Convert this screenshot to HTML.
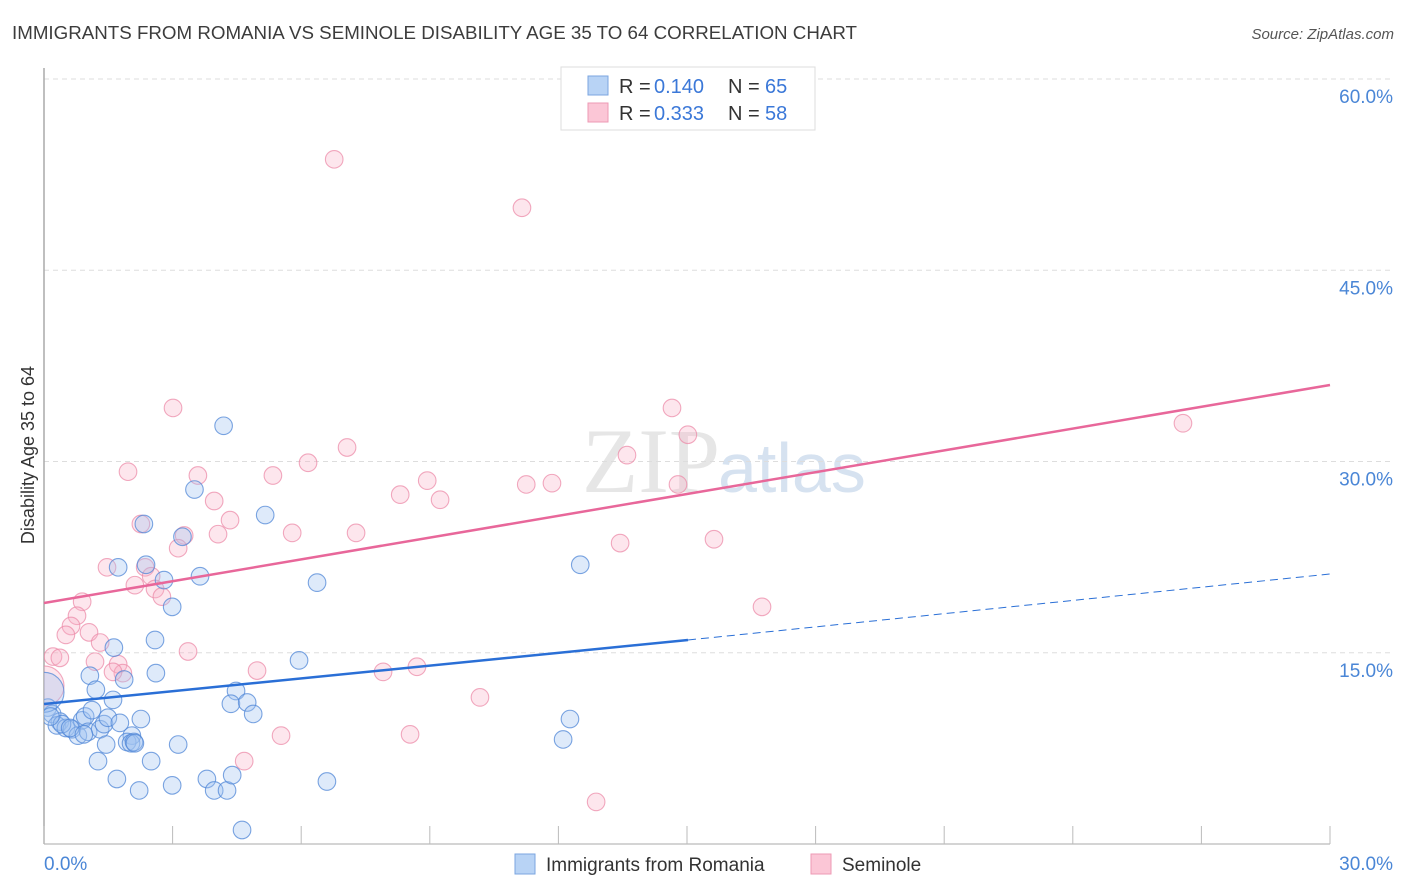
<!DOCTYPE html>
<html><head><meta charset="utf-8"><style>
body{margin:0;background:#fff;font-family:"Liberation Sans",sans-serif;}
svg{display:block}
</style></head><body>
<svg id="c" width="1406" height="892">
<text x="12" y="39" font-size="18" fill="#3c3c3c" textLength="845" lengthAdjust="spacingAndGlyphs">IMMIGRANTS FROM ROMANIA VS SEMINOLE DISABILITY AGE 35 TO 64 CORRELATION CHART</text>
<text x="1394" y="39" font-size="15" fill="#555" font-style="italic" text-anchor="end">Source: ZipAtlas.com</text>
<text x="720" y="492" font-size="92" fill="#e6e6e6" font-family="Liberation Serif,serif" text-anchor="end">ZIP</text>
<text x="718" y="492" font-size="70" fill="#d6e2f0" text-anchor="start">atlas</text>
<text transform="translate(34,455) rotate(-90)" font-size="18" fill="#333" text-anchor="middle">Disability Age 35 to 64</text>
<g id="grid"></g>
<defs><clipPath id="pc"><rect x="44" y="60" width="1300" height="790"/></clipPath></defs>
<g id="pts" clip-path="url(#pc)"></g>
<g id="lines"></g>
<g>
<rect x="561" y="67" width="254" height="63" fill="#fff" stroke="#ddd"/>
<rect x="588" y="76" width="20" height="19" fill="#b8d3f5" stroke="#7ba6e0"/>
<rect x="588" y="103" width="20" height="19" fill="#fbc6d6" stroke="#ee9ab4"/>
<text x="619" y="93" font-size="20" fill="#333">R = </text>
<text x="654" y="93" font-size="20" fill="#3b78d8">0.140</text>
<text x="728" y="93" font-size="20" fill="#333">N = </text>
<text x="765" y="93" font-size="20" fill="#3b78d8">65</text>
<text x="619" y="120" font-size="20" fill="#333">R = </text>
<text x="654" y="120" font-size="20" fill="#3b78d8">0.333</text>
<text x="728" y="120" font-size="20" fill="#333">N = </text>
<text x="765" y="120" font-size="20" fill="#3b78d8">58</text>
</g>
<g>
<rect x="515" y="854" width="20" height="20" fill="#b8d3f5" stroke="#7ba6e0"/>
<text x="546" y="871" font-size="19" fill="#333">Immigrants from Romania</text>
<rect x="811" y="854" width="20" height="20" fill="#fbc6d6" stroke="#ee9ab4"/>
<text x="842" y="871" font-size="19" fill="#333">Seminole</text>
</g>
</svg>
<script>
const blueX=[4.19,3.51,2.33,3.23,2.38,1.73,2.8,3.64,2.99,6.37,5.16,12.51,2.59,1.63,2.61,1.07,1.87,5.95,1.21,1.61,4.48,4.36,4.74,4.88,0.09,0.19,0.37,0.30,0.51,0.65,0.79,0.89,0.96,1.03,1.12,1.31,1.4,1.49,1.77,2.05,1.94,2.03,2.1,2.26,1.45,1.26,2.5,3.13,1.70,2.22,2.99,3.8,3.97,4.27,4.39,4.62,6.6,12.27,12.11,0.0,0.42,0.61,0.93,2.12,0.15];
const blueY=[32.8,27.8,25.1,24.1,21.9,21.7,20.7,21.0,18.6,20.5,25.8,21.9,16.0,15.4,13.4,13.2,12.9,14.4,12.1,11.3,12.0,11.0,11.1,10.2,10.7,10.2,9.6,9.3,9.1,9.0,8.5,9.7,10.0,8.8,10.5,9.0,9.4,9.9,9.5,8.5,8.0,7.9,8.0,9.8,7.8,6.5,6.5,7.8,5.1,4.2,4.6,5.1,4.2,4.2,5.4,1.1,4.9,9.8,8.2,11.9,9.4,9.1,8.6,7.9,10.0];
const pinkX=[6.77,11.15,26.57,14.65,15.02,3.01,7.07,13.6,1.96,3.59,6.16,5.34,8.94,8.31,9.24,11.25,11.85,14.79,3.97,4.34,4.06,2.26,3.27,5.79,7.28,3.13,13.44,15.63,1.47,2.36,2.5,2.12,2.59,2.75,0.89,0.77,0.63,0.51,1.05,1.31,0.21,0.37,1.19,3.36,1.73,1.84,1.61,4.97,7.91,8.7,16.75,10.17,8.54,5.53,4.67,12.88,0.0];
const pinkY=[53.7,49.9,33.0,34.2,32.1,34.2,31.1,30.5,29.2,28.9,29.9,28.9,28.5,27.4,27.0,28.2,28.3,28.2,26.9,25.4,24.3,25.1,24.2,24.4,24.4,23.2,23.6,23.9,21.7,21.7,21.0,20.3,20.0,19.4,19.0,17.9,17.1,16.4,16.6,15.8,14.7,14.6,14.3,15.1,14.1,13.4,13.5,13.6,13.5,13.9,18.6,11.5,8.6,8.5,6.5,3.3,12.4];
const S="http://www.w3.org/2000/svg";
const X0=44,X1=1330,Y0=844,Y60=79;
const sx=v=>X0+v/30*(X1-X0), sy=v=>Y0-v/60*(Y0-Y60);
function mk(t,a,p){const e=document.createElementNS(S,t);for(const k in a)e.setAttribute(k,a[k]);p.appendChild(e);return e;}
const grid=document.getElementById('grid');
const yTicks=[15,30,45,60];
yTicks.forEach(v=>{
 const l=mk('line',{x1:44,x2:1394,y1:sy(v),y2:sy(v),stroke:'#ddd','stroke-dasharray':'5,4'},grid);
 
 
 const t=mk('text',{x:1393,y:sy(v)+24,'font-size':19,fill:'#4a86d6','text-anchor':'end'},grid);t.textContent=v.toFixed(1)+'%';
 
 
});
const ax=mk('line',{x1:44,x2:44,y1:68,y2:844,stroke:'#aaa','stroke-width':1.5},grid);


const bx=mk('line',{x1:44,x2:1330,y1:844,y2:844,stroke:'#aaa','stroke-width':1},grid);


for(let i=0;i<=10;i++){const x=sx(i*3);const tk=mk('line',{x1:x,x2:x,y1:826,y2:844,stroke:'#bbb'},grid);
 
 }
const xl=[['0.0%',44,'start'],['30.0%',1393,'end']];
xl.forEach(a=>{const t=mk('text',{x:a[1],y:870,'font-size':19,fill:'#4a86d6','text-anchor':a[2]},grid);t.textContent=a[0];
 
 });
const pts=document.getElementById('pts');
pinkX.forEach((v,i)=>{const c=mk('circle',{cx:sx(v),cy:sy(pinkY[i]),r:i==pinkX.length-1?20:8.8,fill:'rgba(248,178,200,0.32)',stroke:'rgba(236,140,170,0.75)','stroke-width':1.1},pts);
 
 });
blueX.forEach((v,i)=>{const c=mk('circle',{cx:sx(v),cy:sy(blueY[i]),r:i==59?20:8.8,fill:'rgba(160,195,240,0.35)',stroke:'rgba(80,135,215,0.75)','stroke-width':1.1},pts);
 
 });
const L=document.getElementById('lines');
const bl=mk('line',{x1:44,y1:704,x2:688,y2:640,stroke:'#2a6fd6','stroke-width':2.5},L);


const bd=mk('line',{x1:688,y1:640,x2:1330,y2:574,stroke:'#2a6fd6','stroke-width':1,'stroke-dasharray':'8,5'},L);


const pl=mk('line',{x1:44,y1:603,x2:1330,y2:385,stroke:'#e8679a','stroke-width':2.5},L);


</script>
</body></html>
